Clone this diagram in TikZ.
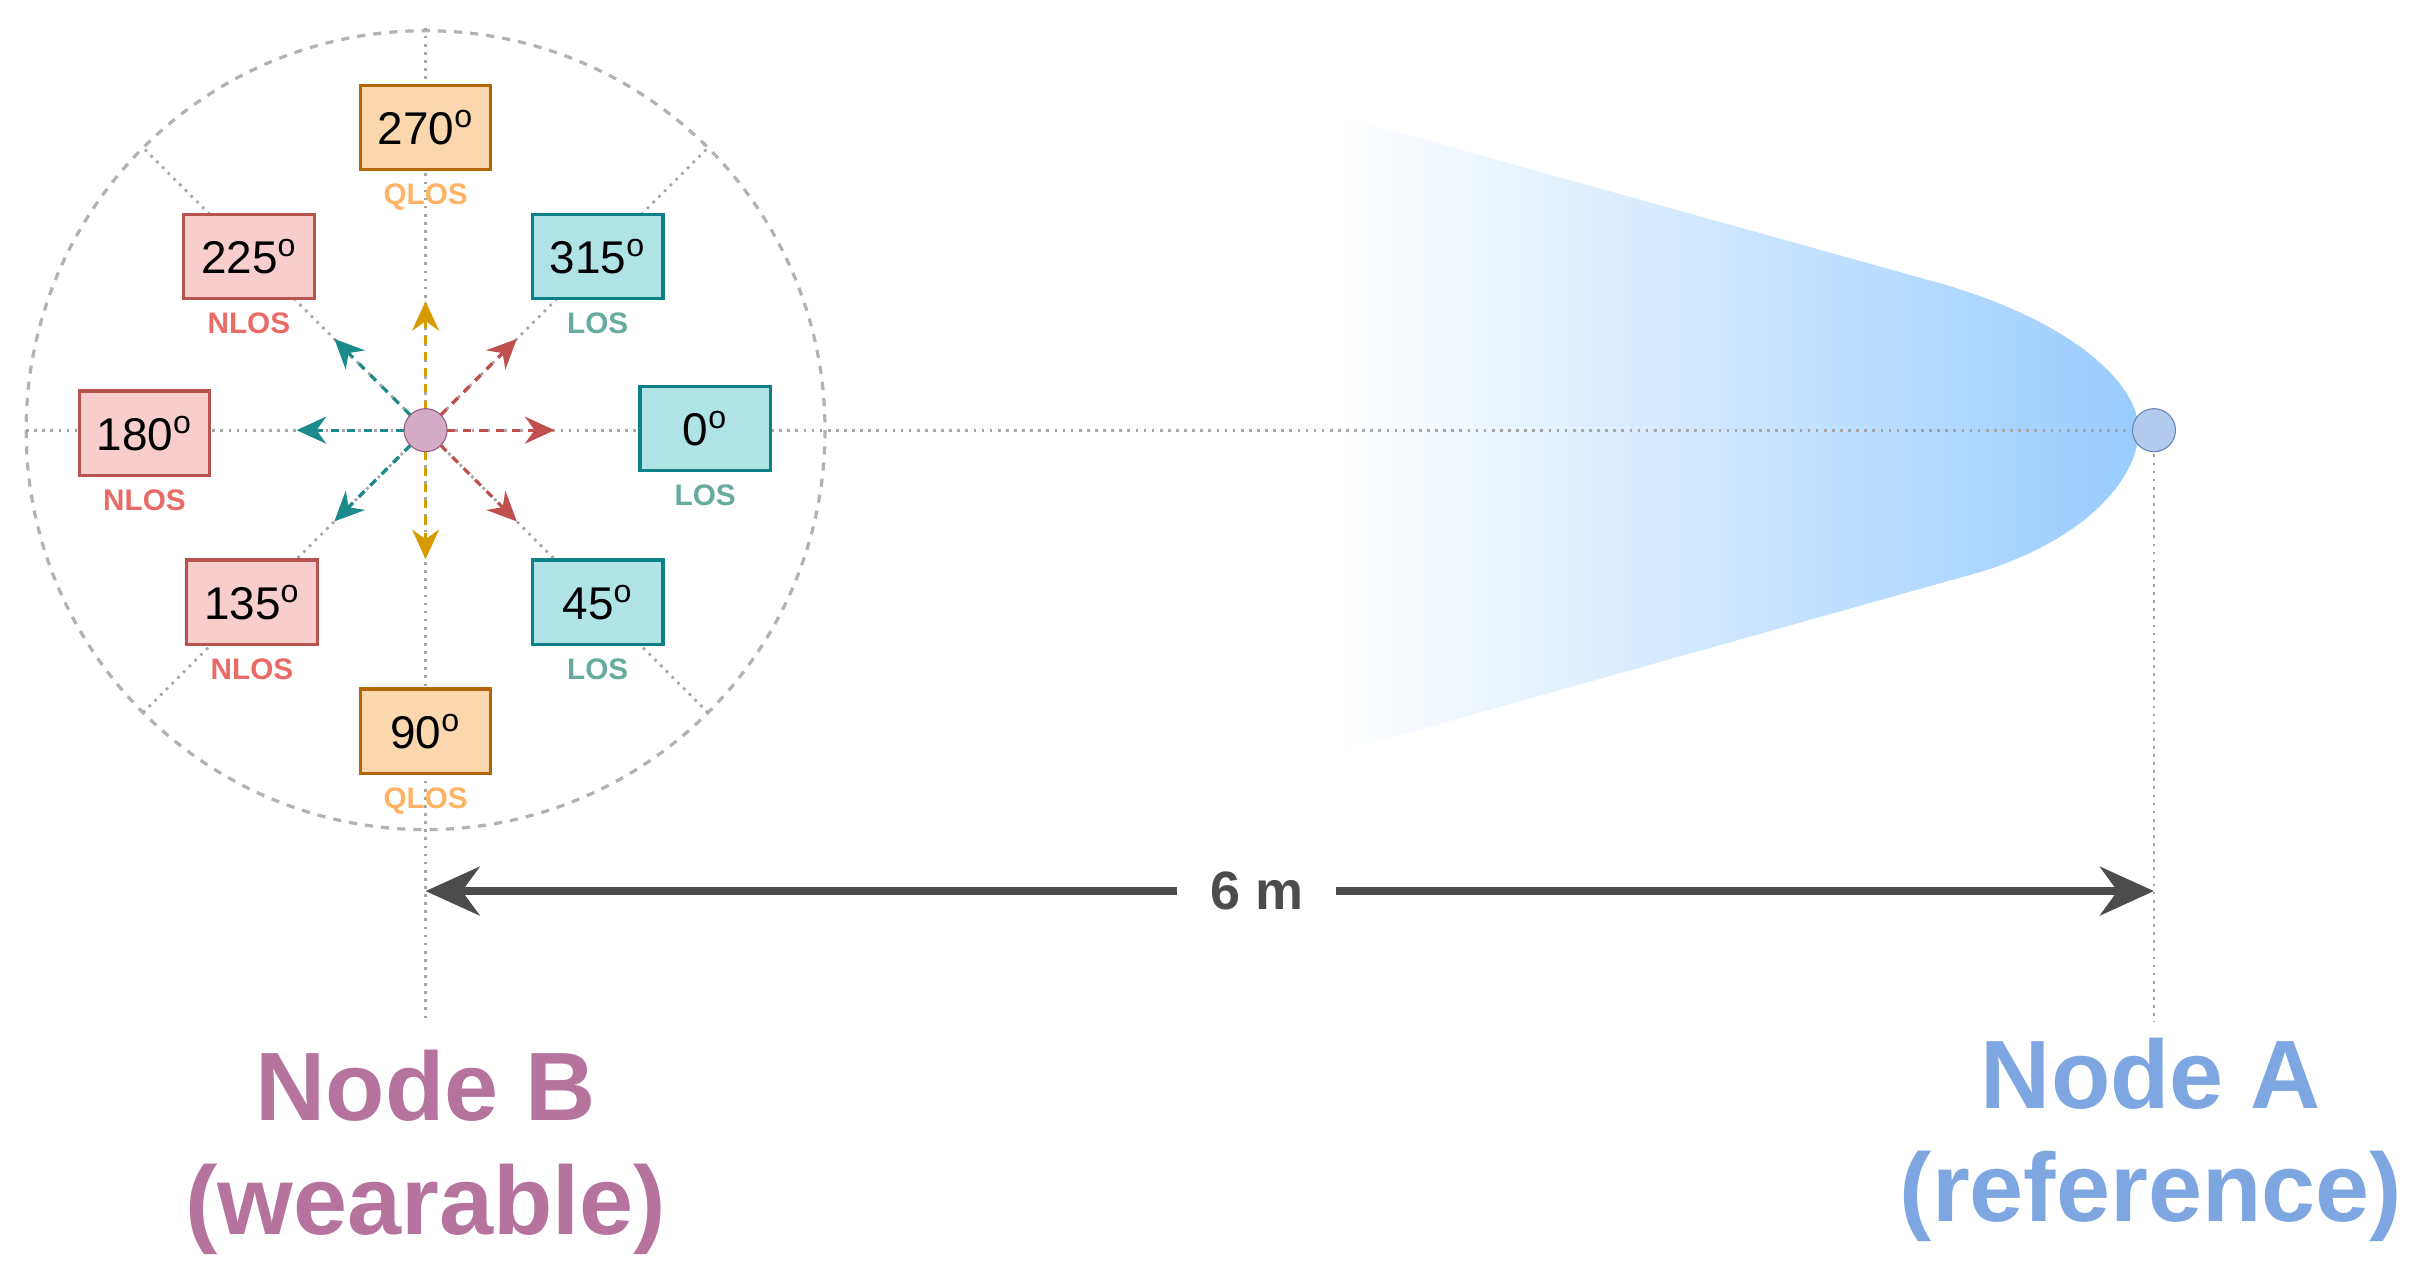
\documentclass[tikz,border=0pt]{standalone}
\usepackage{fontspec}
\setmainfont{Liberation Sans}
\usetikzlibrary{arrows.meta}
\definecolor{orF}{HTML}{FAD7AC}\definecolor{orD}{HTML}{B46504}\definecolor{orT}{HTML}{FFB366}\definecolor{orA}{HTML}{D79B00}
\definecolor{reF}{HTML}{F8CECC}\definecolor{reD}{HTML}{B85450}\definecolor{reT}{HTML}{EA6B66}\definecolor{reA}{HTML}{C0504D}
\definecolor{teF}{HTML}{B0E3E6}\definecolor{teD}{HTML}{0E8088}\definecolor{teT}{HTML}{67AB9F}\definecolor{teA}{HTML}{1A8A8A}
\definecolor{beam}{HTML}{99CCFF}\definecolor{nb}{HTML}{B5739D}\definecolor{na}{HTML}{7EA6E0}
\tikzset{
 abox/.style={draw=#1D,fill=#1F,line width=1.2pt,minimum width=1.7cm,minimum height=1.1cm,inner sep=0pt,font=\fontsize{17}{20}\selectfont},
 alab/.style={text=#1T,font=\bfseries\fontsize{11}{13}\selectfont},
 guide/.style={gray!70,dotted,line width=1pt},
 ray/.style={draw=#1A,dashed,line width=1.2pt,-{Stealth[length=11pt,width=10pt]}},
}
\begin{document}
\begin{tikzpicture}[x=0.02cm,y=-0.02cm]
\useasboundingbox (0,0) rectangle (1568,830);
% beam
\shade[left color=white,right color=beam,draw=none]
 (870,75) -- (1265,185) .. controls (1350,210) and (1392,250) .. (1392,280)
 .. controls (1392,310) and (1360,350) .. (1290,372) -- (870,490) -- cycle;
% guides
\draw[gray!60,dashed,line width=1.2pt] (277,280) circle[radius=260];
\draw[guide] (17,280) -- (1402,280);
\draw[guide] (277,18) -- (277,665);
\draw[guide] (1402,280) -- (1402,665);
\draw[guide] (277,280) ++(45:260) -- ++(225:520);
\draw[guide] (277,280) ++(135:260) -- ++(315:520);
\coordinate (c) at (277,280);
% rays
\foreach \a/\c in {0/te,315/te,45/te,90/or,270/or,180/re,135/re,225/re}
 \draw[ray=\c] (c) ++(\a:-14) -- ++(\a:-70);
\node[circle,draw=nb!80!black,fill=nb!60,minimum size=0.56cm,inner sep=0pt] (B) at (c) {};
\node[circle,draw=na!80!black,fill=na!60,minimum size=0.56cm,inner sep=0pt] (A) at (1402,280) {};
% boxes
\foreach \n/\x/\y/\c/\l in {270/277/83/or/QLOS,225/162/167/re/NLOS,315/389/167/te/LOS,180/94/282/re/NLOS,0/459/279/te/LOS,135/164/392/re/NLOS,45/389/392/te/LOS,90/277/476/or/QLOS}{
 \node[abox=\c] (b\n) at (\x,\y) {\n\textsuperscript{o}};
 \node[alab=\c,anchor=north] (l\n) at ([yshift=-1pt]b\n.south) {\l};
}
% distance
\coordinate (d1) at (277,580); \coordinate (d2) at (1402,580);
\node[font=\bfseries\fontsize{20}{24}\selectfont,text=black!70,inner sep=12pt] (dl) at (818,580) {6 m};
\draw[black!70,line width=3pt,-{Stealth[length=20pt,width=18pt]}] (dl) -- (d1);
\draw[black!70,line width=3pt,-{Stealth[length=20pt,width=18pt]}] (dl) -- (d2);
% titles
\node[text=nb,font=\bfseries\fontsize{36}{40}\selectfont,align=center] (tB) at (277,750) {Node B\\[2pt](wearable)};
\node[text=na,font=\bfseries\fontsize{36}{40}\selectfont,align=center] (tA) at (1400,742) {Node A\\[2pt](reference)};
\end{tikzpicture}
\end{document}
